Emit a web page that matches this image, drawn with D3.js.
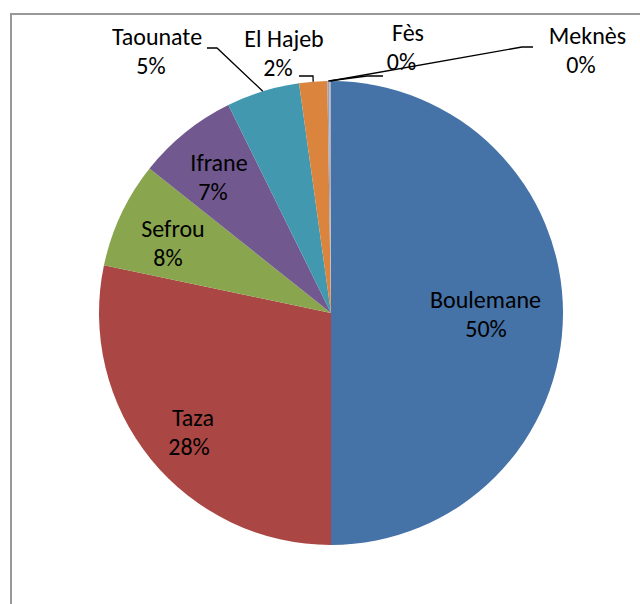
<!DOCTYPE html>
<html>
<head>
<meta charset="utf-8">
<script src="https://cdn.jsdelivr.net/npm/d3@7"></script>
<style>
  html, body { margin: 0; padding: 0; background: #fff; }
  svg { display: block; }
</style>
</head>
<body>
<svg id="chart" width="640" height="604"></svg>
<script>
// ---- data ----
const categories = ["Boulemane", "Taza", "Sefrou", "Ifrane", "Taounate", "El Hajeb", "Fès", "Meknès"];
const values = [50.0, 28.3, 7.4, 7.0, 5.1, 1.95, 0.125, 0.125];
const pctLabels = ["50%", "28%", "8%", "7%", "5%", "2%", "0%", "0%"];
const colors = ["#4572A7", "#AA4643", "#89A54E", "#71588F", "#4198AF", "#DB843D", "#A0A0B4", "#B0B0C0"];

// ---- layout (label placement: name centre x, percent centre x, name baseline y) ----
const labelLayout = [
  [485.5, 486, 308],
  [193, 189, 426],
  [173, 168, 237],
  [219, 213, 171],
  [157, 151, 45],
  [284, 278, 47],
  [408, 401.5, 41],
  [587.5, 581, 43.5]
];
// leader lines: [label-side point, elbow point] -> then to slice edge (null = none)
const leaders = [null, null, null, null,
  [[207, 48], [217, 48]],
  [[299, 76], [313, 76]],
  [[383, 76], [367, 76]],
  [[533, 47], [522, 47]]
];

const cx = 331, cy = 313, R = 232;
const svg = d3.select("#chart");

// frame
svg.append("rect")
  .attr("x", 11).attr("y", 14)
  .attr("width", 700).attr("height", 700)
  .attr("fill", "none")
  .attr("stroke", "#989898")
  .attr("stroke-width", 2);

const data = categories.map((c, i) => ({ name: c, value: values[i], pct: pctLabels[i], i }));
const pie = d3.pie().value(d => d.value).sort(null).startAngle(0).endAngle(2 * Math.PI);
const arcs = pie(data);
const arc = d3.arc().innerRadius(0).outerRadius(R);

const g = svg.append("g").attr("transform", `translate(${cx},${cy})`);
g.selectAll("path.slice")
  .data(arcs)
  .join("path")
  .attr("class", "slice")
  .attr("d", arc)
  .attr("fill", d => colors[d.data.i]);

// leader lines
arcs.forEach(a => {
  const L = leaders[a.data.i];
  if (!L) return;
  const mid = (a.startAngle + a.endAngle) / 2;
  const px = cx + R * Math.sin(mid), py = cy - R * Math.cos(mid);
  svg.append("polyline")
    .attr("points", [L[0], L[1], [px, py]].map(p => p.join(",")).join(" "))
    .attr("fill", "none")
    .attr("stroke", "#000")
    .attr("stroke-width", 1.3);
});

// font sizing: match Calibri-like width ("Boulemane" ≈ 110px)
const fontFamily = "Carlito, Calibri, Lato, 'Open Sans', sans-serif";
const probe = svg.append("text").attr("font-family", fontFamily).attr("font-size", 24).text("Boulemane");
const w = probe.node().getComputedTextLength();
probe.remove();
const fs = Math.min(24, 24 * 111 / w);

const labels = svg.append("g").attr("font-family", fontFamily).attr("font-size", fs).attr("fill", "#000").attr("text-anchor", "middle");
data.forEach(d => {
  const [xn, xp, yb] = labelLayout[d.i];
  labels.append("text").attr("x", xn).attr("y", yb).text(d.name);
  labels.append("text").attr("x", xp).attr("y", yb + 29).text(d.pct);
});
</script>
</body>
</html>
